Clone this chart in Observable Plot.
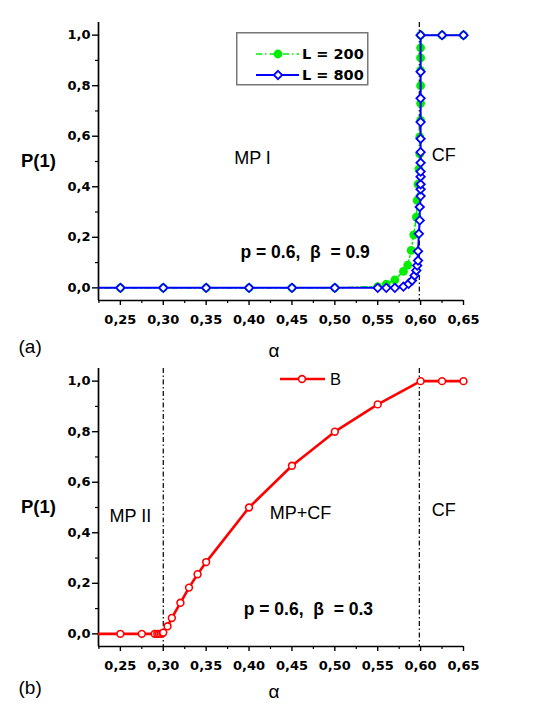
<!DOCTYPE html>
<html><head><meta charset="utf-8">
<script src="https://cdn.jsdelivr.net/npm/d3@7"></script>
<script src="https://cdn.jsdelivr.net/npm/@observablehq/plot@0.6"></script>
<style>
body{margin:0;background:#fff;}
#wrap{position:relative;width:545px;height:705px;background:#fff;font-family:"Liberation Sans",Arial,sans-serif;overflow:hidden;}
.panel{position:absolute;left:0;}
.leg{position:absolute;}
</style></head><body><div id="wrap"></div>
<script>
// ---- data ----
const xTicks = [0.25, 0.30, 0.35, 0.40, 0.45, 0.50, 0.55, 0.60, 0.65];
const xMinorTicks = [0.225, 0.275, 0.325, 0.375, 0.425, 0.475, 0.525, 0.575, 0.625];
const yTicks = [0.0, 0.2, 0.4, 0.6, 0.8, 1.0];
const yMinorTicks = [0.1, 0.3, 0.5, 0.7, 0.9];

// panel (a), L = 200
const alphaL200 = [0.20, 0.25, 0.30, 0.35, 0.40, 0.45, 0.50, 0.55, 0.56, 0.57, 0.58, 0.585, 0.589, 0.592, 0.595, 0.596, 0.597, 0.598, 0.599, 0.599, 0.600, 0.600, 0.600, 0.600, 0.600, 0.600, 0.600, 0.625, 0.65];
const pL200     = [0,    0,    0,    0,    0,    0,    0,    0.005, 0.015, 0.032, 0.065, 0.09, 0.148, 0.21, 0.28, 0.346, 0.41, 0.47, 0.53, 0.597, 0.663, 0.73, 0.80, 0.86, 0.91, 0.95, 1.0, 1.0, 1.0];
// panel (a), L = 800
const alphaL800 = [0.20, 0.25, 0.30, 0.35, 0.40, 0.45, 0.50, 0.55, 0.56, 0.57, 0.58, 0.586, 0.590, 0.593, 0.595, 0.596, 0.597, 0.597, 0.598, 0.599, 0.599, 0.600, 0.600, 0.600, 0.600, 0.600, 0.600, 0.600, 0.600, 0.600, 0.600, 0.600, 0.600, 0.625, 0.65];
const pL800     = [0,    0,    0,    0,    0,    0,    0,    0,    0,    0,    0.005, 0.016, 0.029, 0.049, 0.069, 0.088, 0.108, 0.145, 0.214, 0.267, 0.32, 0.363, 0.39, 0.41, 0.44, 0.46, 0.495, 0.537, 0.59, 0.656, 0.75, 0.855, 1.0, 1.0, 1.0];
// panel (b), B
const alphaB = [0.20, 0.25, 0.275, 0.29, 0.293, 0.295, 0.297, 0.299, 0.30, 0.305, 0.31, 0.32, 0.33, 0.34, 0.35, 0.40, 0.45, 0.50, 0.55, 0.60, 0.625, 0.65];
const pB     = [0,    0,    0,     0,    0,     0,     0,     0.002, 0.005, 0.03, 0.063, 0.123, 0.183, 0.236, 0.284, 0.50, 0.665, 0.80, 0.908, 1.0, 1.0, 1.0];

const transitionsA = [0.5985];
const transitionsB = [0.30, 0.5985];

// ---- helpers ----
const XMIN = 0.2245, XMAX = 0.65;
const toRows = (xs, ys) => xs.map((x, i) => ({x, y: ys[i]}));
const inFrame = rows => rows.filter(d => d.x >= XMIN - 1e-9 && d.x <= XMAX + 1e-9);
const fx = d => d.toFixed(2).replace(".", ",");
const fy = d => d.toFixed(1).replace(".", ",");
const diamond = {draw(ctx, size) {const s = Math.sqrt(size / Math.PI); ctx.moveTo(0, -s); ctx.lineTo(s, 0); ctx.lineTo(0, s); ctx.lineTo(-s, 0); ctx.closePath();}};
const BOLD = "DejaVu Sans";
const REG = "Liberation Sans, Arial, sans-serif";

function axes() {
  return [
    Plot.ruleX([XMIN], {stroke: "black", strokeWidth: 1.7}),
    Plot.ruleY([-0.05], {stroke: "black", strokeWidth: 1.7}),
    Plot.axisX(xTicks, {tickSize: 5, tickPadding: 9, tickFormat: fx, fontFamily: BOLD, fontWeight: "bold", fontSize: 13, strokeWidth: 1.4, label: null}),
    Plot.axisX(xMinorTicks, {tickSize: 3, tickFormat: () => "", strokeWidth: 1.2, label: null}),
    Plot.axisY(yTicks, {tickSize: 6, tickPadding: 2, tickFormat: fy, fontFamily: BOLD, fontWeight: "bold", fontSize: 13, strokeWidth: 1.4, label: null}),
    Plot.axisY(yMinorTicks, {tickSize: 3, tickFormat: () => "", strokeWidth: 1.2, label: null})
  ];
}
function labels(tag, alphaDy, tagDy) {
  return [
    Plot.text(["P(1)"], {frameAnchor: "left", dx: -60, textAnchor: "middle", lineAnchor: "middle", fontFamily: REG, fontWeight: "bold", fontSize: 18.5}),
    Plot.text(["α"], {frameAnchor: "bottom", dx: -7, dy: alphaDy, textAnchor: "middle", lineAnchor: "middle", fontFamily: REG, fontSize: 19}),
    Plot.text([tag], {frameAnchor: "bottom-left", textAnchor: "start", lineAnchor: "middle", dx: -80, dy: tagDy, fontFamily: REG, fontSize: 19})
  ];
}
function panel(marginTop, height, marks) {
  return Plot.plot({
    width: 545, height, marginLeft: 98, marginRight: 82, marginTop, marginBottom: height - marginTop - 278,
    x: {domain: [XMIN, XMAX]}, y: {domain: [-0.05, 1.05]},
    style: {background: "none", overflow: "visible", fontFamily: REG, whiteSpace: "pre"},
    marks
  });
}

const rows200 = toRows(alphaL200, pL200);
const rows800 = toRows(alphaL800, pL800);
const rowsB = toRows(alphaB, pB);

const plotA = panel(22, 345, [
  ...axes(),
  Plot.ruleX(transitionsA, {stroke: "black", strokeWidth: 1.2, strokeDasharray: "5,2.5,1.5,2.5"}),
  Plot.line(rows200, {x: "x", y: "y", stroke: "#00ee00", strokeWidth: 1.6, strokeDasharray: "6,3,1.5,3", clip: true}),
  Plot.dot(inFrame(rows200), {x: "x", y: "y", r: 4.4, fill: "#00ee00", stroke: "none"}),
  Plot.line(rows800, {x: "x", y: "y", stroke: "#0000ff", strokeWidth: 2, clip: true}),
  Plot.dot(inFrame(rows800), {x: "x", y: "y", r: 4.2, symbol: diamond, fill: "white", stroke: "#0000ff", strokeWidth: 1.8}),
  Plot.text(["MP I"], {x: 0.404, y: 0.512, fontSize: 18}),
  Plot.text(["CF"], {x: 0.627, y: 0.524, fontSize: 18}),
  Plot.text(["p = 0.6,\u00a0 β \u00a0= 0.9"], {x: 0.39, y: 0.141, textAnchor: "start", fontFamily: REG, fontWeight: "bold", fontSize: 17.5}),
  ...labels("(a)", 50, 46)
]);

const plotB = panel(23, 360, [
  ...axes(),
  Plot.ruleX(transitionsB, {stroke: "black", strokeWidth: 1.2, strokeDasharray: "5,2.5,1.5,2.5"}),
  Plot.line(rowsB, {x: "x", y: "y", stroke: "#ff0000", strokeWidth: 2.6, clip: true}),
  Plot.dot(inFrame(rowsB), {x: "x", y: "y", r: 3.4, fill: "white", stroke: "#ff0000", strokeWidth: 1.6}),
  Plot.text(["MP II"], {x: 0.2617, y: 0.467, fontSize: 18}),
  Plot.text(["MP+CF"], {x: 0.46, y: 0.476, fontSize: 18}),
  Plot.text(["CF"], {x: 0.627, y: 0.49, fontSize: 18}),
  Plot.text(["p = 0.6,\u00a0 β \u00a0= 0.3"], {x: 0.3938, y: 0.097, textAnchor: "start", fontFamily: REG, fontWeight: "bold", fontSize: 17.5}),
  ...labels("(b)", 45, 41)
]);

const wrap = document.getElementById("wrap");
const d1 = document.createElement("div"); d1.className = "panel"; d1.style.top = "0px"; d1.appendChild(plotA); wrap.appendChild(d1);
const d2 = document.createElement("div"); d2.className = "panel"; d2.style.top = "345px"; d2.appendChild(plotB); wrap.appendChild(d2);

// legends
const ns = "http://www.w3.org/2000/svg";
function el(tag, attrs, parent) { const e = document.createElementNS(ns, tag); for (const k in attrs) e.setAttribute(k, attrs[k]); parent.appendChild(e); return e; }
const legA = document.createElement("div"); legA.className = "leg"; legA.style.left = "236px"; legA.style.top = "32px"; wrap.appendChild(legA);
const sa = el("svg", {width: 133, height: 55}, legA);
el("rect", {x: 0.75, y: 0.75, width: 131, height: 52, fill: "white", stroke: "#777", "stroke-width": 1.5}, sa);
el("line", {x1: 20, x2: 63, y1: 22, y2: 22, stroke: "#00ee00", "stroke-width": 1.6, "stroke-dasharray": "6,3,1.5,3"}, sa);
el("circle", {cx: 42, cy: 22, r: 4.4, fill: "#00ee00"}, sa);
let t = el("text", {x: 66, y: 27, "font-family": BOLD, "font-weight": "bold", "font-size": 14.5}, sa); t.textContent = "L = 200";
el("line", {x1: 20, x2: 63, y1: 43, y2: 43, stroke: "#0000ff", "stroke-width": 2}, sa);
el("path", {d: "M42,38.8L46.2,43L42,47.2L37.8,43Z", fill: "white", stroke: "#0000ff", "stroke-width": 1.8}, sa);
t = el("text", {x: 66, y: 48, "font-family": BOLD, "font-weight": "bold", "font-size": 14.5}, sa); t.textContent = "L = 800";

const legB = document.createElement("div"); legB.className = "leg"; legB.style.left = "276px"; legB.style.top = "368px"; wrap.appendChild(legB);
const sb = el("svg", {width: 80, height: 24}, legB);
el("line", {x1: 4, x2: 49, y1: 11, y2: 11, stroke: "#ff0000", "stroke-width": 2.6}, sb);
el("circle", {cx: 26, cy: 11, r: 3.4, fill: "white", stroke: "#ff0000", "stroke-width": 1.6}, sb);
t = el("text", {x: 54, y: 17, "font-family": REG, "font-size": 16.5}, sb); t.textContent = "B";
</script>
</body></html>
